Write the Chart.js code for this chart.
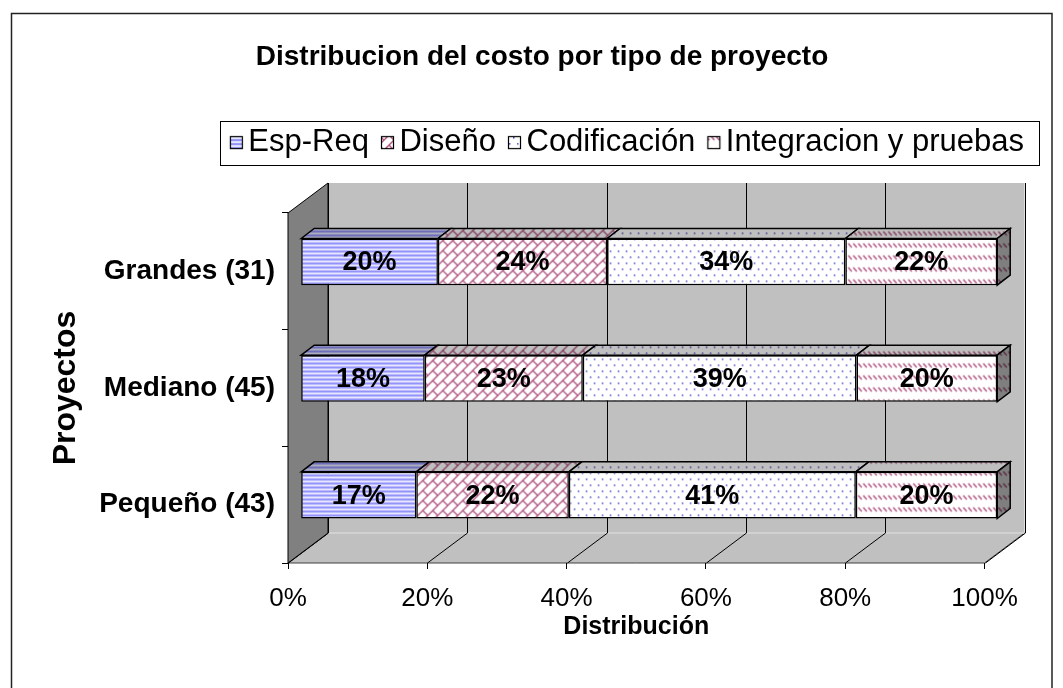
<!DOCTYPE html>
<html>
<head>
<meta charset="utf-8">
<script src="https://cdn.jsdelivr.net/npm/chart.js@4.4.0/dist/chart.umd.min.js"></script>
<style>
body { margin: 0; background: #fff; }
canvas { display: block; }
</style>
</head>
<body>
<canvas id="myChart" width="1063" height="688"></canvas>
<script>
// DATOS
var proyectos = ['Grandes (31)', 'Mediano (45)', 'Pequeño (43)'];
var fases = ['Esp-Req', 'Diseño', 'Codificación', 'Integracion y pruebas'];
var espReq = [19.7, 17.8, 16.6];
var diseno = [24.3, 22.7, 21.9];
var codificacion = [34.2, 39.3, 41.2];
var integracion = [21.8, 20.2, 20.3];

var FUENTE = '"Liberation Sans", Arial, sans-serif';

// profundidad de las paredes, posicion y profundidad de las barras
var DX = 40, DY = -30;
var BX = 12.7, BY = -9.5;
var PX = 13, PY = -10;

var ctx = document.getElementById('myChart').getContext('2d');

function patron(w, h, fondo, dibujar) {
    var c = document.createElement('canvas');
    c.width = w; c.height = h;
    var g = c.getContext('2d');
    g.fillStyle = fondo;
    g.fillRect(0, 0, w, h);
    dibujar(g);
    return ctx.createPattern(c, 'repeat');
}

var patEsp = patron(4, 4, '#e6e6ff', function(g){
    g.fillStyle = '#9393fa';
    g.fillRect(0, 0, 4, 2);
});

var patDis = patron(20, 20, '#ffffff', function(g){
    g.strokeStyle = '#b0527f';
    g.lineWidth = 1.3;
    for (var k = -2; k <= 5; k++) {
        var s = 10 * k;
        g.beginPath(); g.moveTo(s + 20, -20); g.lineTo(-20, s + 20); g.stroke();
        for (var m = -3; m <= 3; m++) {
            var d = (Math.abs(k) % 2 === 0 ? 0 : 10) + 20 * m;
            g.beginPath();
            g.moveTo((s + d) / 2, (s - d) / 2);
            g.lineTo((s + 10 + d) / 2, (s + 10 - d) / 2);
            g.stroke();
        }
    }
});

var patCod = patron(8, 12, '#ffffff', function(g){
    g.fillStyle = '#4a4ac8';
    g.fillRect(1, 2, 1.5, 1.5);
    g.fillRect(5, 8, 1.5, 1.5);
});

var patInt = patron(5, 12, '#ffffff', function(g){
    g.strokeStyle = '#b0527f';
    g.lineWidth = 1.3;
    g.beginPath(); g.moveTo(0.5, 1); g.lineTo(4, 5); g.stroke();
});

var patrones = [patEsp, patDis, patCod, patInt];

// cuadritos de la leyenda (el cuadro va a la derecha del lienzo para acercarlo al texto)
function icono(p) {
    var c = document.createElement('canvas');
    c.width = 30; c.height = 15;
    var g = c.getContext('2d');
    g.fillStyle = p;
    g.fillRect(12, 1, 13, 13);
    g.strokeStyle = '#000';
    g.lineWidth = 1.2;
    g.strokeRect(12.5, 1.5, 12, 12);
    return c;
}
var iconos = patrones.map(icono);

var grafico3d = {
    id: 'grafico3d',
    beforeDraw: function(chart){
        var c = chart.ctx, a = chart.chartArea, xs = chart.scales.x;
        c.save();
        c.strokeStyle = '#222';
        c.lineWidth = 1.5;
        c.strokeRect(11.5, 13.5, 1040.5, 700);

        // pared del fondo
        c.fillStyle = '#c0c0c0';
        c.fillRect(a.left + DX, a.top + DY, a.right - a.left, a.bottom - a.top);

        // piso
        c.beginPath();
        c.moveTo(a.left, a.bottom);
        c.lineTo(a.left + DX, a.bottom + DY);
        c.lineTo(a.right + DX, a.bottom + DY);
        c.lineTo(a.right, a.bottom);
        c.closePath();
        c.fillStyle = '#c0c0c0';
        c.fill();
        c.strokeStyle = '#404040';
        c.lineWidth = 1;
        c.stroke();
        c.strokeStyle = '#ececec';
        c.lineWidth = 1.5;
        c.beginPath();
        c.moveTo(a.left + DX, a.bottom + DY);
        c.lineTo(a.right + DX, a.bottom + DY);
        c.stroke();

        // lineas de division
        c.strokeStyle = '#000';
        c.lineWidth = 1;
        xs.ticks.forEach(function(t){
            var px = Math.round(xs.getPixelForValue(t.value)) + 0.5;
            c.beginPath();
            c.moveTo(px + DX, a.top + DY);
            c.lineTo(px + DX, a.bottom + DY);
            c.moveTo(px, a.bottom);
            c.lineTo(px + DX, a.bottom + DY);
            c.stroke();
        });

        // pared izquierda
        c.beginPath();
        c.moveTo(a.left, a.top);
        c.lineTo(a.left + DX, a.top + DY);
        c.lineTo(a.left + DX, a.bottom + DY);
        c.lineTo(a.left, a.bottom);
        c.closePath();
        c.fillStyle = '#808080';
        c.fill();
        c.strokeStyle = '#000';
        c.stroke();
        c.restore();
    },
    beforeDatasetsDraw: function(chart){
        var c = chart.ctx;
        c.save();
        c.translate(BX, BY);
        var n = chart.data.datasets.length;
        chart.data.datasets.forEach(function(ds, i){
            chart.getDatasetMeta(i).data.forEach(function(el){
                var l = Math.min(el.x, el.base), r = Math.max(el.x, el.base);
                var t = el.y - el.height / 2, b = el.y + el.height / 2;
                c.beginPath();
                c.moveTo(l, t); c.lineTo(l + PX, t + PY); c.lineTo(r + PX, t + PY); c.lineTo(r, t);
                c.closePath();
                c.fillStyle = ds.backgroundColor; c.fill();
                c.fillStyle = 'rgba(0,0,0,0.25)'; c.fill();
                c.strokeStyle = '#000'; c.lineWidth = 1.5; c.stroke();
                if (i === n - 1) {
                    c.beginPath();
                    c.moveTo(r, t); c.lineTo(r + PX, t + PY); c.lineTo(r + PX, b + PY); c.lineTo(r, b);
                    c.closePath();
                    c.fillStyle = ds.backgroundColor; c.fill();
                    c.fillStyle = 'rgba(0,0,0,0.5)'; c.fill();
                    c.stroke();
                }
            });
        });
    },
    afterDatasetsDraw: function(chart){
        var c = chart.ctx;
        c.font = 'bold 27px ' + FUENTE;
        c.fillStyle = '#000';
        c.textAlign = 'center';
        c.textBaseline = 'middle';
        chart.data.datasets.forEach(function(ds, i){
            chart.getDatasetMeta(i).data.forEach(function(el, j){
                c.fillText(Math.round(ds.data[j]) + '%', (el.x + el.base) / 2, el.y + 1);
            });
        });
        c.restore();
    },
    afterDraw: function(chart){
        var hb = chart.legend.legendHitBoxes;
        if (!hb || !hb.length) return;
        var l = Infinity, r = -Infinity, cy = hb[0].top + hb[0].height / 2;
        hb.forEach(function(h){
            l = Math.min(l, h.left);
            r = Math.max(r, h.left + h.width);
        });
        var c = chart.ctx;
        c.save();
        c.strokeStyle = '#000';
        c.lineWidth = 1;
        c.strokeRect(Math.round(l - 13) + 0.5, Math.round(cy - 22) + 0.5, Math.round(r - l + 28), 44);
        c.restore();
    }
};

var chart = new Chart(ctx, {
    type: 'bar',
    data: {
        labels: proyectos,
        datasets: [
            { label: fases[0], data: espReq, backgroundColor: patEsp },
            { label: fases[1], data: diseno, backgroundColor: patDis },
            { label: fases[2], data: codificacion, backgroundColor: patCod },
            { label: fases[3], data: integracion, backgroundColor: patInt }
        ]
    },
    options: {
        responsive: false,
        animation: false,
        indexAxis: 'y',
        barPercentage: 0.4,
        categoryPercentage: 1.0,
        clip: false,
        elements: {
            bar: { borderColor: '#000', borderWidth: 1.5, borderSkipped: false }
        },
        layout: { padding: { top: 0, left: 45, right: 24, bottom: 0 } },
        plugins: {
            title: {
                display: true,
                text: 'Distribucion del costo por tipo de proyecto',
                color: '#000',
                font: { family: FUENTE, size: 28, weight: 'bold' },
                padding: { top: 40, bottom: 38.5 }
            },
            legend: {
                display: true,
                position: 'top',
                align: 'end',
                labels: {
                    color: '#000',
                    font: { family: FUENTE, size: 31 },
                    usePointStyle: true,
                    boxWidth: 0.01,
                    boxHeight: 14,
                    padding: 15,
                    generateLabels: function(chart){
                        var items = Chart.defaults.plugins.legend.labels.generateLabels(chart);
                        items.forEach(function(it, i){ it.pointStyle = iconos[i]; });
                        return items;
                    }
                }
            },
            tooltip: { enabled: false }
        },
        scales: {
            x: {
                type: 'linear',
                stacked: true,
                min: 0,
                max: 100,
                ticks: {
                    stepSize: 20,
                    color: '#000',
                    padding: 14,
                    font: { family: FUENTE, size: 26 },
                    callback: function(v){ return v + '%'; }
                },
                grid: { drawOnChartArea: false, tickLength: 6, color: '#000' },
                border: { display: false },
                title: {
                    display: true,
                    text: 'Distribución',
                    color: '#000',
                    font: { family: FUENTE, size: 25, weight: 'bold' },
                    padding: { top: 0, bottom: 46 }
                },
                afterFit: function(s){ s.height = 125; }
            },
            xTop: {
                type: 'linear',
                position: 'top',
                display: true,
                ticks: { display: false },
                grid: { display: false },
                border: { display: false },
                afterFit: function(s){ s.height = 44.9; }
            },
            y: {
                type: 'category',
                stacked: true,
                ticks: {
                    color: '#000',
                    padding: 7,
                    font: { family: FUENTE, size: 28, weight: 'bold' }
                },
                grid: { offset: true, drawOnChartArea: false, tickLength: 6, color: '#000' },
                border: { display: false },
                title: {
                    display: true,
                    text: 'Proyectos',
                    color: '#000',
                    font: { family: FUENTE, size: 32, weight: 'bold' },
                    padding: { top: 2, bottom: 0 }
                },
                afterFit: function(s){ s.width = 243; }
            },
            yR: {
                type: 'category',
                position: 'right',
                display: true,
                ticks: { display: false },
                grid: { display: false },
                border: { display: false },
                afterFit: function(s){ s.width = 54.5; }
            }
        }
    },
    plugins: [grafico3d]
});
</script>
</body>
</html>
